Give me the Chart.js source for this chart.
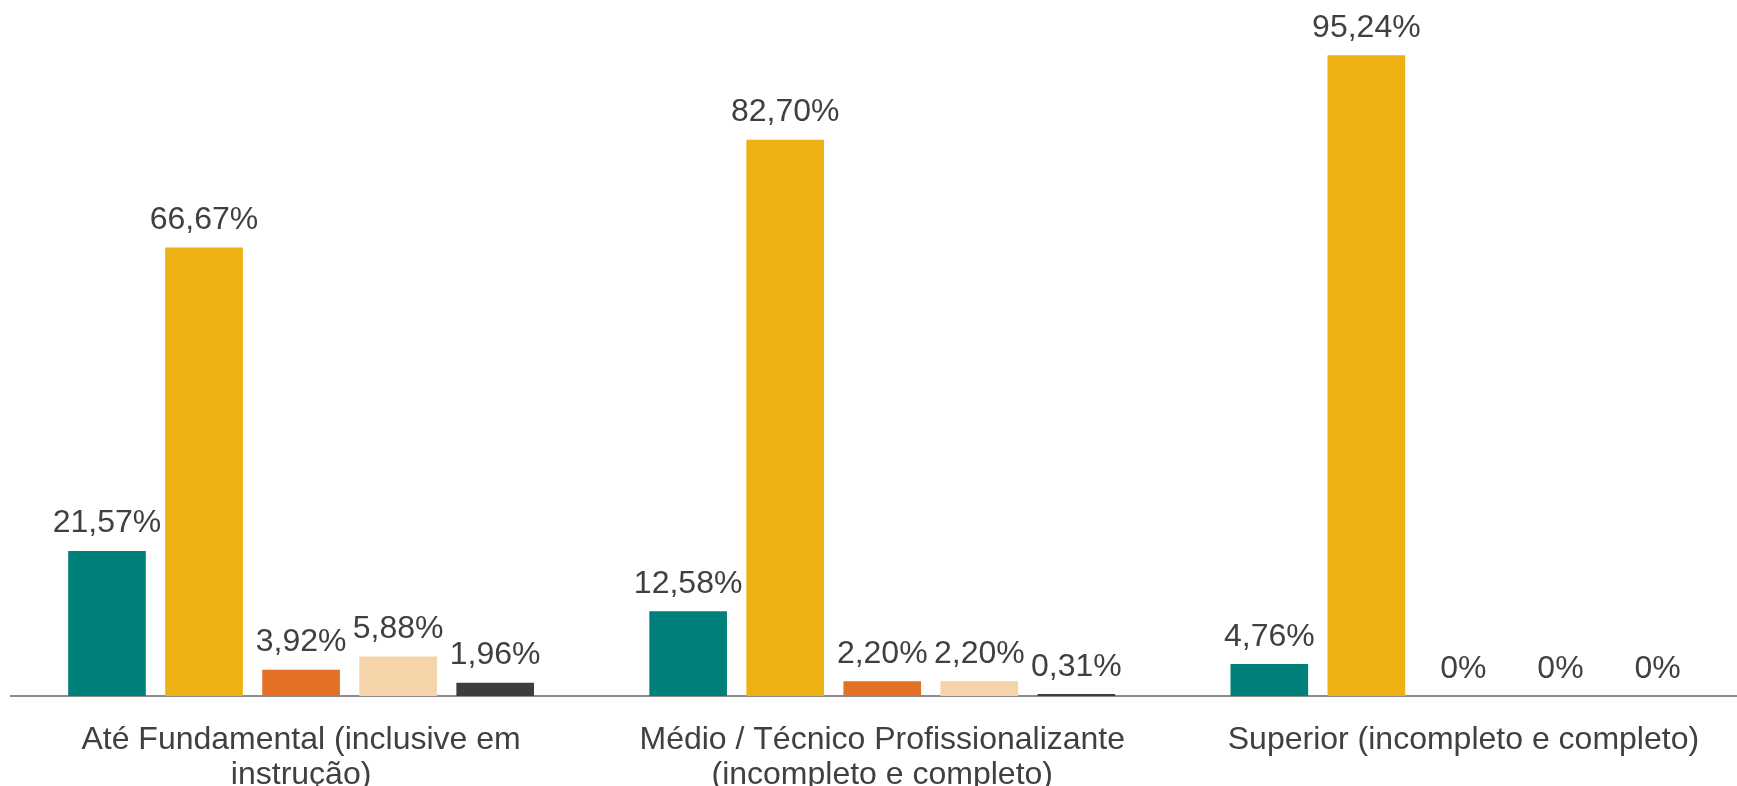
<!DOCTYPE html>
<html>
<head>
<meta charset="utf-8">
<script src="https://cdn.jsdelivr.net/npm/chart.js@4/dist/chart.umd.min.js"></script>
<style>
    html, body { margin: 0; padding: 0; overflow: hidden; background: #fff; }
    #wrap { width: 1754px; height: 786px; position: relative; }
</style>
</head>
<body>
<div id="wrap"><canvas id="chart-0"></canvas></div>
<script>
var categories = [
    ['Até Fundamental (inclusive em', 'instrução)'],
    ['Médio / Técnico Profissionalizante', '(incompleto e completo)'],
    'Superior (incompleto e completo)'
];

var seriesNames = ['Série 1', 'Série 2', 'Série 3', 'Série 4', 'Série 5'];
var seriesColors = ['#00807A', '#EDB114', '#E27126', '#F4D4A8', '#3D3D3D'];

var values1 = [21.57, 12.58, 4.76];
var values2 = [66.67, 82.70, 95.24];
var values3 = [3.92, 2.20, 0];
var values4 = [5.88, 2.20, 0];
var values5 = [1.96, 0.31, 0];

var yTicks = [0, 100];

var textColor = '#404040';
var fontFamily = '"Liberation Sans", Arial, sans-serif';

var allValues = [values1, values2, values3, values4, values5];
var datasets = [];
allValues.forEach(function (vals, i) {
    datasets.push({
        label: seriesNames[i],
        data: vals,
        backgroundColor: seriesColors[i],
        borderWidth: 0,
        categoryPercentage: 0.835,
        barPercentage: 0.8
    });
});

function formatValue(v) {
    if (v === 0) return '0%';
    return v.toFixed(2).replace('.', ',') + '%';
}

// values over the bars
var valueLabels = {
    id: 'valueLabels',
    afterDatasetsDraw: function (chart) {
        var ctx = chart.ctx;
        ctx.save();
        ctx.font = '32px ' + fontFamily;
        ctx.fillStyle = textColor;
        ctx.textAlign = 'center';
        ctx.textBaseline = 'alphabetic';
        chart.data.datasets.forEach(function (ds, i) {
            var meta = chart.getDatasetMeta(i);
            meta.data.forEach(function (bar, j) {
                ctx.fillText(formatValue(ds.data[j]), bar.x, bar.y - 18.4);
            });
        });
        ctx.restore();
    }
};

new Chart('chart-0', {
    type: 'bar',
    data: {
        labels: categories,
        datasets: datasets
    },
    options: {
        responsive: true,
        maintainAspectRatio: false,
        animation: false,
        layout: {
            padding: { top: 23.3, left: 10.5, right: 0, bottom: 0 }
        },
        plugins: {
            legend: { display: false },
            tooltip: { enabled: false }
        },
        scales: {
            x: {
                grid: { display: false },
                border: { display: true, color: '#8C8C8C', width: 2 },
                ticks: {
                    color: textColor,
                    padding: 18,
                    maxRotation: 0,
                    autoSkip: false,
                    font: { family: fontFamily, size: 32, lineHeight: 1.11 }
                },
                afterFit: function (scale) {
                    scale.height = 90;
                }
            },
            y: {
                display: false,
                min: yTicks[0],
                max: yTicks[1]
            }
        }
    },
    plugins: [valueLabels]
});
</script>
</body>
</html>
